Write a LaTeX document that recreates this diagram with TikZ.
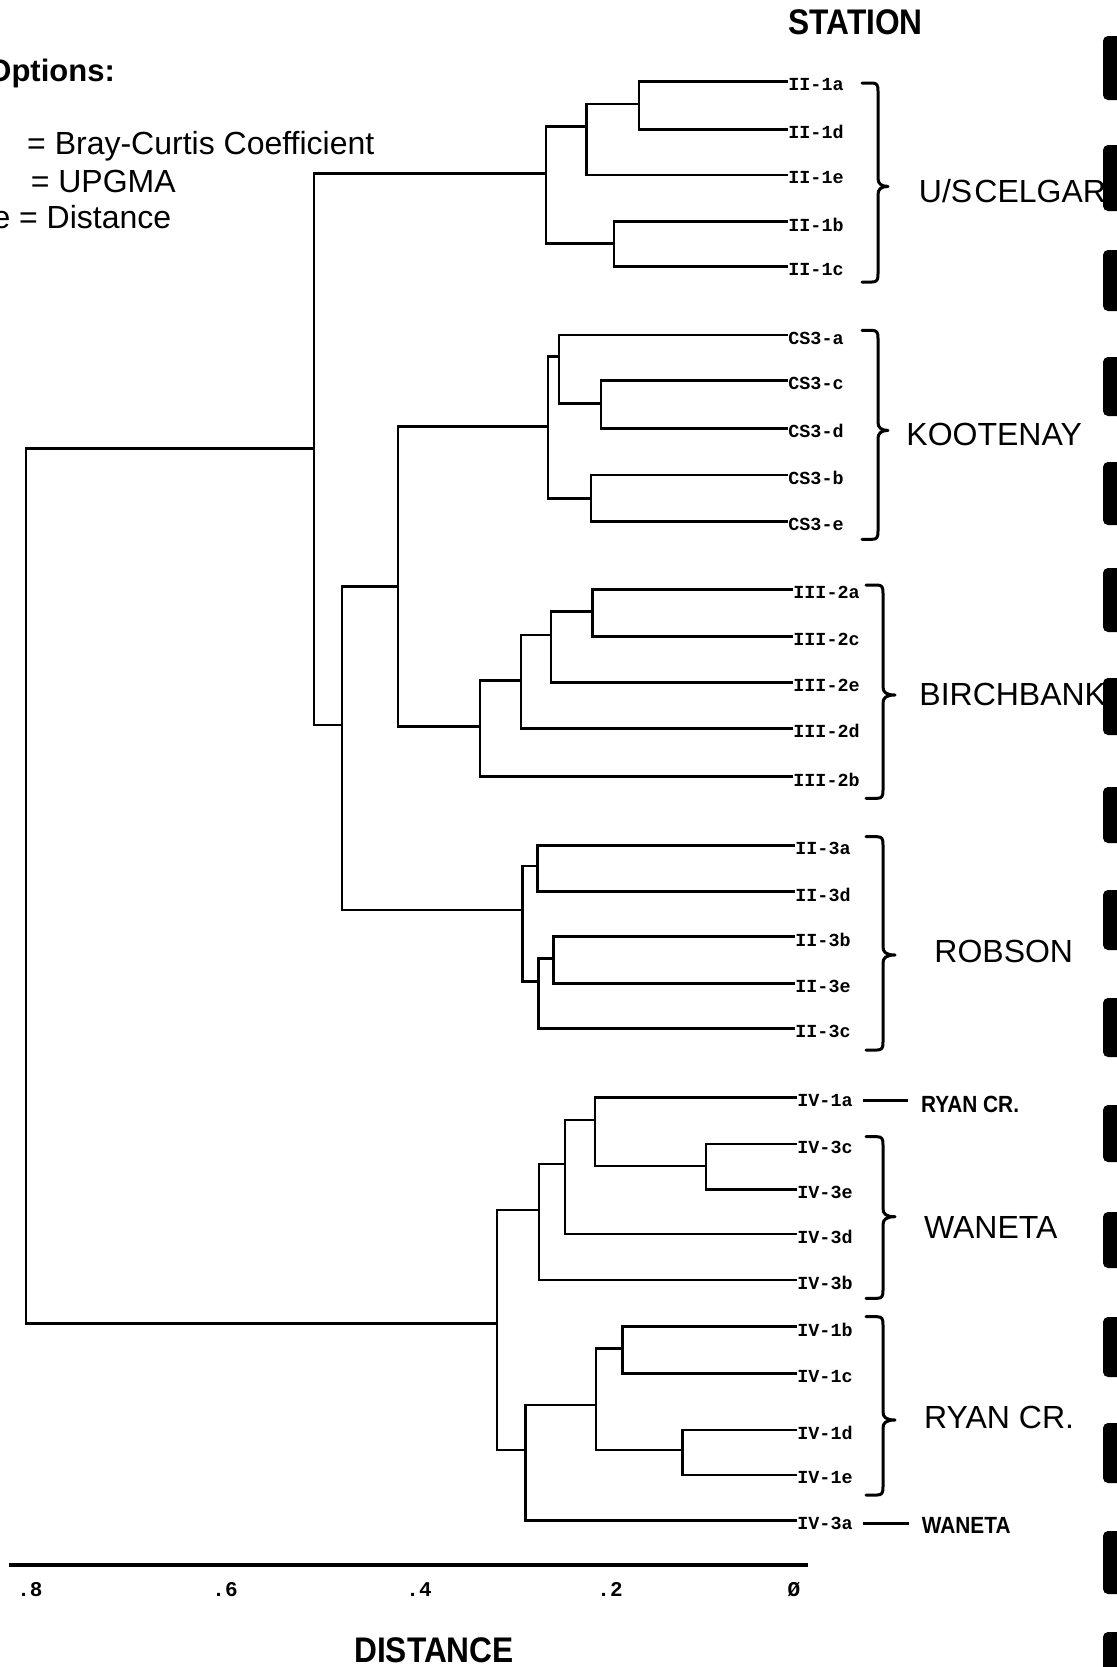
\documentclass[tikz,border=0pt]{standalone}
\usepackage{fontspec}
\usepackage{graphicx}
\setmainfont{Liberation Sans}
\newfontfamily\leaffont{Liberation Mono}
\usetikzlibrary{calc}
\newcommand{\grpbrace}[6]{%
  \draw[brc] (#1,#4) -- ({#2-6},#4) .. controls ({#2-1},#4) and (#2,{#4+2}) .. (#2,{#4+8})
    -- (#2,{#5-8}) .. controls (#2,{#5-3}) and ({#2+3},#5) .. (#3,#5)
    .. controls ({#2+3},#5) and (#2,{#5+3}) .. (#2,{#5+8})
    -- (#2,{#6-8}) .. controls (#2,{#6-2}) and ({#2-1},#6) .. ({#2-6},#6) -- (#1,#6);}
\tikzset{
  tree/.style={line width=1.35pt},
  leaf/.style={anchor=west, inner sep=0pt, font=\leaffont\bfseries\fontsize{9.2}{11}\selectfont},
  grp/.style={anchor=base west, inner sep=0pt, font=\fontsize{16}{19}\selectfont},
  smlab/.style={anchor=base west, inner sep=0pt, font=\bfseries\fontsize{11.7}{14}\selectfont},
  ttl/.style={anchor=base, inner sep=0pt, font=\bfseries\fontsize{17.8}{21}\selectfont},
  tick/.style={anchor=base, inner sep=0pt, font=\leaffont\bfseries\fontsize{10.5}{12}\selectfont},
  legend/.style={anchor=base west, inner sep=0pt, font=\fontsize{16}{19}\selectfont},
  brc/.style={line width=1.5pt, line cap=round, line join=round},
  scanbar/.style={fill=black, rounded corners=2.5pt},
}
\begin{document}
\begin{tikzpicture}[x=0.5pt,y=-0.5pt]
\useasboundingbox (0,0) rectangle (1116,1667);
\fill[white] (0,0) rectangle (1116,1667);

% titles and legend
\node[ttl] (station) at (855.6,34) {\scalebox{0.89}[1]{STATION}};
\node[ttl] (distance) at (434,1662) {\scalebox{0.89}[1]{DISTANCE}};
\node[anchor=base west, inner sep=0pt, font=\bfseries\fontsize{15.5}{18}\selectfont] (opt) at (-13,81) {Options:};
\node[legend] (leg1) at (26.8,154) {= Bray-Curtis Coefficient};
\node[legend] (leg2) at (30.4,192.7) {= UPGMA};
\node[legend] (leg3) at (-7.9,228.3) {e = Distance};

% leaves
\foreach \n/\t/\x/\y in {
  s1a/II-1a/788/81.7, s1d/II-1d/788/129.3, s1e/II-1e/788/175, s1b/II-1b/788/221.7, s1c/II-1c/788/266.7,
  ka/CS3-a/788/335, kc/CS3-c/788/380.7, kd/CS3-d/788/428.3, kbb/CS3-b/788/475, ke/CS3-e/788/521.7,
  ba/III-2a/793/589.3, bc/III-2c/793/636.7, be/III-2e/793/682.7, bd/III-2d/793/728.3, bb/III-2b/793/776.7,
  ra/II-3a/795/845.7, rd/II-3d/795/891.7, rb/II-3b/795/936.7, re/II-3e/795/983.3, rc/II-3c/795/1028.3,
  v1a/IV-1a/797/1097.3, v3c/IV-3c/797/1144, v3e/IV-3e/797/1189.3, v3d/IV-3d/797/1234, v3b/IV-3b/797/1280,
  v1b/IV-1b/797/1326.7, v1c/IV-1c/797/1373.3, v1d/IV-1d/797/1430, v1e/IV-1e/797/1475, v3a/IV-3a/797/1520.7}
  \node[leaf] (\n) at (\x,{\y+3}) {\t};

% internal nodes
\coordinate (na1) at (639,104);
\coordinate (na2) at (586.5,126.7);
\coordinate (na3) at (614,243.3);
\coordinate (na4) at (546,173.3);
\coordinate (nk1) at (601,403.3);
\coordinate (nk2) at (559,356.7);
\coordinate (nk3) at (591,498.3);
\coordinate (nk4) at (548,426.7);
\coordinate (nb1) at (592.4,611.7);
\coordinate (nb2) at (551,635);
\coordinate (nb3) at (521,680.7);
\coordinate (nb4) at (480,726.7);
\coordinate (nkb) at (398,586.7);
\coordinate (nr1) at (537.6,866);
\coordinate (nr2) at (553.8,958.3);
\coordinate (nr3) at (538.3,981.7);
\coordinate (nr4) at (522.8,910);
\coordinate (nkbr) at (342,725);
\coordinate (nup) at (314,448.3);
\coordinate (nw1) at (706,1166);
\coordinate (nw2) at (595,1120);
\coordinate (nw3) at (565,1164);
\coordinate (nw4) at (539,1210);
\coordinate (ny1) at (622.4,1348.3);
\coordinate (ny2) at (682.5,1450);
\coordinate (ny3) at (596,1405);
\coordinate (ny4) at (525.6,1450);
\coordinate (nlo) at (497,1323.3);
\coordinate (nrt) at (26,885);

% internal to internal
\foreach \p/\c in {na2/na1, na4/na2, na4/na3, nk2/nk1, nk4/nk2, nk4/nk3, nb2/nb1, nb3/nb2, nb4/nb3,
  nkb/nk4, nkb/nb4, nr3/nr2, nr4/nr1, nr4/nr3, nkbr/nkb, nkbr/nr4, nup/na4, nup/nkbr,
  nw2/nw1, nw3/nw2, nw4/nw3, ny3/ny1, ny3/ny2, ny4/ny3, nlo/nw4, nlo/ny4, nrt/nup, nrt/nlo}
  \draw[tree] (\p) |- (\c);

% internal to leaf
\foreach \p/\c in {na1/s1a, na1/s1d, na2/s1e, na3/s1b, na3/s1c, nk1/kc, nk1/kd, nk2/ka, nk3/kbb, nk3/ke,
  nb1/ba, nb1/bc, nb2/be, nb3/bd, nb4/bb, nr1/ra, nr1/rd, nr2/rb, nr2/re, nr3/rc,
  nw1/v3c, nw1/v3e, nw2/v1a, nw3/v3d, nw4/v3b, ny1/v1b, ny1/v1c, ny2/v1d, ny2/v1e, ny4/v3a}
  \draw[tree] (\p) |- ([yshift=1.5pt]\c.west);

% braces
\grpbrace{862}{878}{888}{83}{186.4}{282}
\grpbrace{862}{878}{888}{330.4}{430.4}{539.3}
\grpbrace{866}{883}{895}{585}{695}{798.3}
\grpbrace{866}{883}{895}{836.7}{955}{1050}
\grpbrace{866}{883}{895}{1136.7}{1216.7}{1298.3}
\grpbrace{866}{883}{895}{1316.7}{1420}{1495}

% group names
\node[grp] (gus) at (918.5,202) {U/S\hspace{0.07em}CELGAR};
\node[grp] (gkoot) at (906,445) {KOOTENAY};
\node[grp] (gbirch) at (919,705) {BIRCHBANK};
\node[grp] (grob) at (934,962) {ROBSON};
\node[grp] (gwan) at (923.7,1238) {WANETA};
\node[grp] (gryan) at (923.7,1428.5) {RYAN CR.};

% single-sample labels
\node[smlab] (sryan) at (920.7,1112) {\scalebox{0.89}[1]{RYAN CR.}};
\node[smlab] (swan) at (921.5,1533) {\scalebox{0.89}[1]{WANETA}};
\draw[tree] ($(v1a.east)+(10,0)$) -- ($(v1a.east -| sryan.west)+(-13,0)$);
\draw[tree] ($(v3a.east)+(10,0)$) -- ($(v3a.east -| swan.west)+(-13,0)$);

% axis
\coordinate (axl) at (9,1564.6);
\coordinate (axr) at (808,1564.6);
\draw[line width=1.9pt] (axl) -- (axr);
\node[tick] (t8) at (30,1596.5) {.8};
\node[tick] (t6) at (225,1596.5) {.6};
\node[tick] (t4) at (419,1596.5) {.4};
\node[tick] (t2) at (610,1596.5) {.2};
\node[tick] (t0) at (794,1596.5) {Ø};

% scan bars at right edge
\foreach \a/\b in {36/100, 145/211, 250/311, 357/416, 462/525, 568/632, 678/735, 787/843, 890/950,
  998/1057, 1105/1162, 1212/1268, 1317/1377, 1423/1483, 1531/1594, 1632/1685}
  \fill[scanbar] (1103,\a) rectangle (1130,\b);
\end{tikzpicture}
\end{document}
